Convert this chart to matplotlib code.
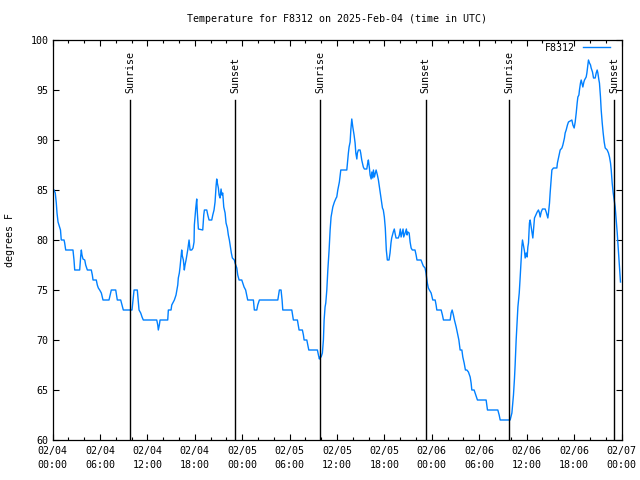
import matplotlib
matplotlib.use('Agg')
import matplotlib.pyplot as plt
from matplotlib.ticker import MultipleLocator

# hours since 2025-02-04 00:00 UTC, temperature in F
hours = [
    0.19, 0.35, 0.48, 0.57, 0.70, 0.82, 1.01, 1.11, 1.46, 1.54, 1.67, 2.59, 2.72, 2.81,
    3.44, 3.57, 3.65, 3.73, 3.86, 4.08, 4.20, 4.41, 4.91, 5.04, 5.13, 5.54, 5.67, 5.80,
    5.97, 6.18, 6.39, 7.15, 7.44, 8.00, 8.20, 8.63, 8.80, 8.96, 10.06, 10.19, 10.32,
    10.73, 10.95, 11.16, 11.33, 11.49,
    13.19, 13.32, 13.39, 13.52, 13.61, 14.58, 14.66, 15.00, 15.09, 15.29, 15.42, 15.63,
    15.85, 15.92, 16.05, 16.14, 16.27, 16.35, 16.43, 16.56, 16.68, 16.77, 16.90, 17.11,
    17.28, 17.41, 17.62, 17.78, 17.91, 17.95, 18.13, 18.25, 18.33, 18.46, 19.01, 19.14,
    19.22, 19.52, 19.65, 19.81, 20.15, 20.28, 20.44, 20.57, 20.70, 20.78, 20.86, 20.99,
    21.08, 21.20, 21.33, 21.42, 21.54, 21.67, 21.84, 21.96, 22.13, 22.25, 22.38, 22.51,
    22.63, 22.76, 23.01, 23.10, 23.32, 23.44, 23.61, 23.95, 24.08, 24.24, 24.44, 24.70,
    25.42, 25.54, 25.85, 25.97, 26.18, 28.51, 28.71, 28.92, 29.05, 29.14, 30.28, 30.48,
    30.99, 31.20, 31.62, 31.75, 31.84, 32.18, 32.30, 32.43, 33.52, 33.65, 33.77, 33.86,
    33.99, 34.15, 34.28, 34.37, 34.49, 34.58, 34.71, 34.84, 35.00, 35.13, 35.25, 35.47,
    35.67, 35.89, 35.97, 36.10, 36.18, 36.30, 36.48, 37.24, 37.32, 37.44, 37.53, 37.66,
    37.75, 37.87, 38.00, 38.16, 38.29, 38.38, 38.51, 38.58, 38.71, 38.92, 39.00, 39.13,
    39.33, 39.46, 39.77, 39.89, 39.97, 40.10, 40.19, 40.32, 40.41, 40.53, 40.61, 40.73,
    40.95, 41.11, 41.24, 41.37, 41.48, 41.66, 41.75, 41.86, 41.99, 42.11, 42.24, 42.37,
    42.58, 42.71, 42.83, 42.92, 43.12, 43.25, 43.34, 43.47, 43.76, 43.89, 44.01, 44.11,
    44.23, 44.36, 44.44, 44.62, 44.78, 44.87, 44.96, 45.13, 45.25, 45.38, 45.53, 45.87,
    46.01, 46.12, 46.63, 46.92, 47.14, 47.26, 47.43, 47.56, 47.69, 47.91, 48.03, 48.12,
    48.42, 48.54, 48.63, 49.18, 49.34, 49.47, 50.32, 50.44, 50.57, 50.73, 50.86, 51.08,
    51.24, 51.42, 51.58, 51.80, 51.92, 52.09, 52.25, 52.43, 52.63, 52.85, 52.97, 53.06,
    53.35, 53.48, 53.70, 53.77, 54.87, 55.04, 56.35, 56.52, 56.65, 57.91, 58.13, 58.33,
    58.46, 58.54, 58.67, 58.80, 58.89, 59.06, 59.18, 59.39, 59.47, 59.60, 59.72, 59.81,
    59.94, 60.06, 60.15, 60.23, 60.35, 60.44, 60.57, 60.66, 60.78, 60.86, 60.99, 61.16,
    61.33, 61.49, 61.62, 61.71, 61.84, 62.00, 62.34, 62.47, 62.68, 62.76, 62.89, 62.97,
    63.10, 63.19, 63.39, 63.82, 63.89, 64.02, 64.15, 64.24, 64.46, 64.58, 64.66, 64.78,
    64.87, 65.00, 65.16, 65.29, 65.72, 65.85, 66.01, 66.14, 66.27, 66.39, 66.48, 66.61,
    66.68, 66.81, 66.90, 66.99, 67.11, 67.24, 67.32, 67.53, 67.62, 67.75, 67.82, 67.95,
    68.08, 68.16, 68.33, 68.46, 68.67, 68.80, 68.92, 69.01, 69.14, 69.21, 69.34, 69.43,
    69.56, 69.68, 69.81, 69.94, 70.19, 70.35, 70.48, 70.61, 70.70, 70.82, 70.95, 71.08,
    71.20, 71.33, 71.46, 71.54, 71.62, 71.71, 71.80, 71.87,
]
temps = [
    85.0, 84.7, 83.7, 82.7, 81.8, 81.5, 81.0, 80.0, 80.0, 79.7, 79.0, 79.0, 78.0, 77.0,
    77.0, 78.4, 79.0, 78.5, 78.1, 78.0, 77.5, 77.0, 77.0, 76.5, 76.0, 76.0, 75.5, 75.2,
    75.0, 74.7, 74.0, 74.0, 75.0, 75.0, 74.0, 74.0, 73.5, 73.0, 73.0, 74.0, 75.0,
    75.0, 73.0, 72.7, 72.3, 72.0,
    72.0, 71.5, 71.0, 71.5, 72.0, 72.0, 73.0, 73.0, 73.5, 73.8, 74.0, 74.5,
    75.5, 76.2, 76.7, 77.3, 78.3, 79.0, 78.4, 78.0, 77.0, 77.5, 78.0, 79.0,
    80.0, 79.0, 79.0, 79.2, 79.8, 81.5, 83.2, 84.1, 82.7, 81.1, 81.0, 82.5,
    83.0, 83.0, 82.5, 82.0, 82.0, 82.5, 83.0, 83.8, 85.4, 86.1, 85.7, 85.2,
    84.5, 84.2, 85.1, 84.5, 84.7, 83.3, 82.7, 81.7, 81.2, 80.5, 80.0, 79.3,
    78.7, 78.2, 78.0, 77.7, 77.2, 76.5, 76.0, 76.0, 75.7, 75.3, 75.0, 74.0,
    74.0, 73.0, 73.0, 73.5, 74.0, 74.0, 75.0, 75.0, 74.0, 73.0, 73.0, 72.0,
    72.0, 71.0, 71.0, 70.5, 70.0, 70.0, 69.5, 69.0, 69.0, 68.5, 68.1, 68.3,
    68.3, 68.7, 70.0, 72.0, 73.3, 73.7, 75.0, 77.0, 79.0, 81.0, 82.3, 83.3,
    83.8, 84.2, 84.3, 85.0, 85.3, 85.8, 87.0, 87.0, 87.7, 88.7, 89.3, 89.8,
    91.0, 92.1, 91.3, 90.5, 89.7, 88.7, 88.1, 88.7, 89.0, 89.0, 88.7, 88.0,
    87.3, 87.1, 87.1, 87.7, 88.0, 87.2, 86.5, 86.1, 86.8, 86.2, 87.0, 86.3,
    87.0, 86.5, 86.0, 85.3, 84.7, 83.8, 83.2, 83.0, 82.3, 81.2, 79.0, 78.0,
    78.0, 78.7, 79.7, 80.2, 80.8, 81.1, 80.7, 80.2, 80.2, 80.5, 81.1, 80.3,
    80.7, 81.1, 80.3, 80.7, 81.1, 80.5, 80.8, 80.7, 79.8, 79.2, 79.0, 79.0,
    78.5, 78.0, 78.0, 77.4, 77.2, 76.7, 75.7, 75.2, 75.0, 74.7, 74.3, 74.0,
    74.0, 73.5, 73.0, 73.0, 72.5, 72.0, 72.0, 72.7, 73.0, 72.5, 72.0, 71.3,
    70.7, 70.0, 69.0, 69.0, 68.3, 67.7, 67.0, 67.0, 66.8, 66.3, 65.7, 65.0,
    65.0, 64.7, 64.2, 64.0, 64.0, 63.0, 63.0, 62.5, 62.0, 62.0, 62.7, 64.5,
    66.2, 67.5, 70.0, 72.0, 73.3, 74.7, 76.3, 79.3, 80.0, 79.4, 78.9, 78.2,
    78.7, 78.3, 79.3, 79.7, 81.7, 82.0, 81.3, 80.8, 80.2, 81.0, 82.2, 82.5,
    82.8, 83.0, 82.7, 82.3, 82.8, 83.1, 83.1, 82.8, 82.2, 82.7, 83.7, 84.7,
    86.0, 87.0, 87.2, 87.2, 87.7, 88.2, 88.7, 89.0, 89.2, 89.5, 89.8, 90.2,
    90.7, 91.0, 91.5, 91.8, 92.0, 91.5, 91.2, 91.8, 92.7, 93.7, 94.3, 94.5,
    95.0, 95.7, 96.0, 95.7, 95.3, 95.8, 96.0, 96.3, 96.7, 97.5, 98.0, 97.7,
    97.5, 97.2, 96.8, 96.2, 96.2, 96.7, 97.0, 96.7, 96.0, 95.7, 94.3, 93.0,
    91.7, 90.7, 89.8, 89.2, 89.0, 88.7, 88.3, 87.7, 87.0, 85.7, 84.7, 84.0,
    83.3, 82.0, 80.7, 79.7, 78.7, 77.7, 76.7, 75.8,
]

sunrise_hours = [9.85, 33.9, 57.8]
sunset_hours = [23.15, 47.2, 71.1]

tick_hours = list(range(0, 73, 6))
tick_labels = ['02/04\n00:00', '02/04\n06:00', '02/04\n12:00', '02/04\n18:00',
               '02/05\n00:00', '02/05\n06:00', '02/05\n12:00', '02/05\n18:00',
               '02/06\n00:00', '02/06\n06:00', '02/06\n12:00', '02/06\n18:00',
               '02/07\n00:00']

plt.rcParams['font.family'] = ['DejaVu Sans Mono']
plt.rcParams['font.size'] = 7.2

fig = plt.figure(figsize=(6.4, 4.8), dpi=100)
ax = fig.add_axes([52.5 / 640, 40 / 480, 569 / 640, 400 / 480])

ax.plot(hours, temps, color='#0080ff', lw=1.0, label='F8312')

# sunrise / sunset markers
for h in sunrise_hours:
    ax.plot([h, h], [60, 94.0], color='black', lw=1.0)
    ax.text(h, 94.7, 'Sunrise', rotation=90, ha='center', va='bottom')
for h in sunset_hours:
    ax.plot([h, h], [60, 94.0], color='black', lw=1.0)
    ax.text(h, 94.7, 'Sunset', rotation=90, ha='center', va='bottom')

ax.set_xlim(0, 72)
ax.set_ylim(60, 100)
ax.set_xticks(tick_hours)
ax.set_xticklabels(tick_labels, linespacing=1.5)
ax.xaxis.set_minor_locator(MultipleLocator(2))
ax.yaxis.set_major_locator(MultipleLocator(5))

ax.tick_params(which='major', direction='in', length=4, width=0.8,
               top=True, right=True, pad=4)
ax.tick_params(which='minor', direction='in', length=2.5, width=0.8,
               top=True, right=True)
ax.tick_params(axis='y', pad=3)
for s in ax.spines.values():
    s.set_linewidth(0.9)

ax.legend(loc='upper right', bbox_to_anchor=(0.98, 0.993), frameon=False,
          markerfirst=False, handlelength=2.7, handletextpad=0.8,
          borderpad=0, borderaxespad=0)

fig.text((52.5 + 569 / 2) / 640, 1 - 19 / 480,
         'Temperature for F8312 on 2025-Feb-04 (time in UTC)',
         ha='center', va='center')
fig.text(10 / 640, 0.5, 'degrees F', rotation=90, ha='center', va='center')

fig.savefig('out.png', dpi=100)
